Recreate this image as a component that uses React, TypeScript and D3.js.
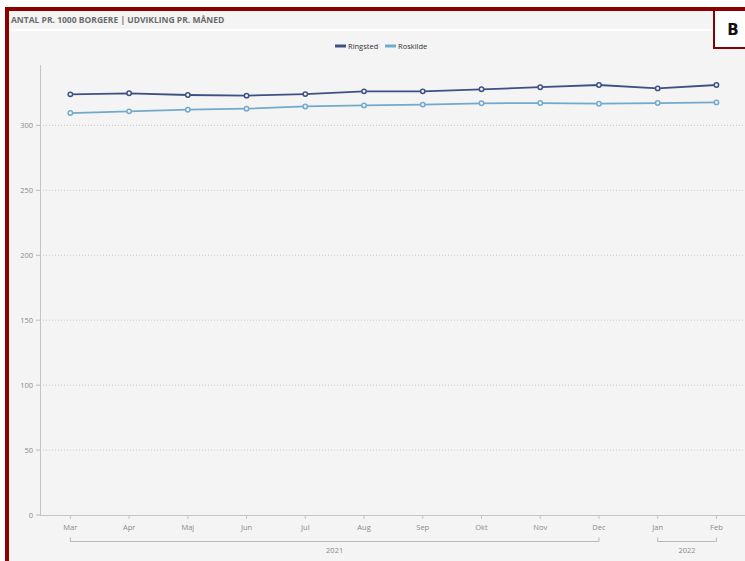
import React from "react";
import * as d3 from "d3";

const months = ["Mar", "Apr", "Maj", "Jun", "Jul", "Aug", "Sep", "Okt", "Nov", "Dec", "Jan", "Feb"];
const ringsted = [323.9, 324.7, 323.4, 322.9, 324.1, 326.2, 326.2, 327.8, 329.4, 331.1, 328.5, 331.1];
const roskilde = [309.5, 310.8, 312.1, 312.9, 314.6, 315.4, 316.0, 317.0, 317.2, 316.7, 317.2, 317.7];
const yTicks = [0, 50, 100, 150, 200, 250, 300];
const years = [
  { label: "2021", from: "Mar", to: "Dec" },
  { label: "2022", from: "Jan", to: "Feb" },
];
const series = [
  { name: "Ringsted", values: ringsted, color: "#3f5184" },
  { name: "Roskilde", values: roskilde, color: "#72aacb" },
];

const W = 745;
const H = 561;
const FONT = "'Open Sans', 'Noto Sans', sans-serif";

export default function App() {
  const x = d3.scaleBand<string>().domain(months).range([41, 745.8]).padding(0);
  const cx = (m: string) => (x(m) as number) + x.bandwidth() / 2;
  const y = d3.scaleLinear().domain([0, 346.5]).range([515, 65]);
  const line = d3
    .line<number>()
    .x((_, i) => cx(months[i]))
    .y((d) => y(d));

  return (
    <div style={{ position: "fixed", left: 0, top: 0 }}>
      <svg width={W} height={H} style={{ display: "block" }} fontFamily={FONT}>
        <rect x={0} y={0} width={W} height={H} fill="#ffffff" />
        <rect x={9} y={11} width={W - 9} height={H - 11} fill="#f4f4f4" />
        {/* frame */}
        <rect x={5} y={7} width={4} height={H - 7} fill="#8b0000" />
        <rect x={5} y={7} width={W - 5} height={4} fill="#8b0000" />
        {/* title */}
        <text x={11} y={23} fontSize={8.5} fontWeight="bold" fill="#6b6b6b">
          ANTAL PR. 1000 BORGERE | UDVIKLING PR. MÅNED
        </text>
        <rect x={9} y={29} width={W - 9} height={1.5} fill="#ffffff" />
        {/* B box */}
        <rect x={714} y={10} width={33} height={38} fill="#ffffff" stroke="#8b0000" strokeWidth={2} />
        <text x={733} y={35} fontSize={15} fontWeight="bold" fill="#111" textAnchor="middle" fontFamily="'DejaVu Sans', sans-serif">
          B
        </text>
        {/* legend */}
        {series.map((s, i) => {
          const lx = 335 + i * 50;
          return (
            <g key={s.name}>
              <rect x={lx} y={44.5} width={11} height={3} fill={s.color} />
              <text x={lx + 13} y={49} fontSize={7.5} fill="#333">
                {s.name}
              </text>
            </g>
          );
        })}
        {/* grid */}
        {yTicks.map((t) => (
          <g key={t}>
            {t > 0 && (
              <line x1={40} x2={745} y1={y(t)} y2={y(t)} stroke="#c8c8c8" strokeWidth={1} strokeDasharray="1,2" />
            )}
            <line x1={36} x2={40} y1={y(t)} y2={y(t)} stroke="#bbbbbb" />
            <text x={33} y={y(t) + 2.5} fontSize={7.5} fill="#8a8a8a" textAnchor="end">
              {t}
            </text>
          </g>
        ))}
        {/* axes */}
        <line x1={40.5} x2={40.5} y1={y(346.5)} y2={515} stroke="#c4c4c4" />
        <line x1={40} x2={745} y1={515.5} y2={515.5} stroke="#c4c4c4" />
        {months.map((m) => (
          <g key={m}>
            <line x1={cx(m)} x2={cx(m)} y1={515} y2={519} stroke="#c4c4c4" />
            <text x={cx(m)} y={530} fontSize={7.5} fill="#8a8a8a" textAnchor="middle">
              {m}
            </text>
          </g>
        ))}
        {years.map((yr) => {
          const a = cx(yr.from);
          const b = cx(yr.to);
          return (
            <g key={yr.label}>
              <path d={`M${a},537.5V541.5H${b}V537.5`} fill="none" stroke="#b8b8b8" />
              <text x={(a + b) / 2} y={553} fontSize={7.5} fill="#8a8a8a" textAnchor="middle">
                {yr.label}
              </text>
            </g>
          );
        })}
        {/* series */}
        {series.map((s) => (
          <g key={s.name}>
            <path d={line(s.values) || ""} fill="none" stroke={s.color} strokeWidth={1.8} />
            {s.values.map((v, i) => (
              <circle key={i} cx={cx(months[i])} cy={y(v)} r={2.2} fill="#f4f4f4" stroke={s.color} strokeWidth={1.5} />
            ))}
          </g>
        ))}
      </svg>
    </div>
  );
}
